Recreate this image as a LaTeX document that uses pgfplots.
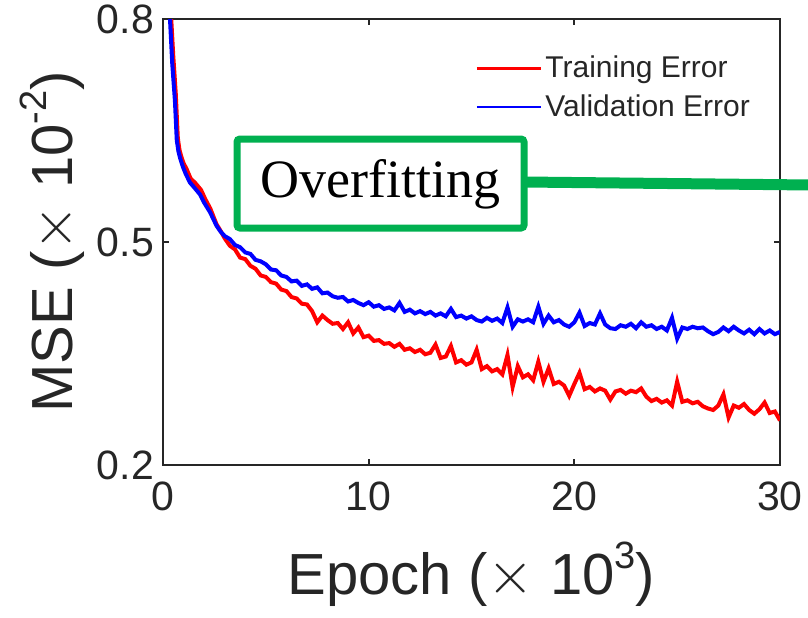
\documentclass[border=0pt]{standalone}
\usepackage{fontspec}
\setmainfont{Liberation Sans}
\newfontfamily\timesfont{Liberation Serif}
\usepackage{pgfplots}
\pgfplotsset{compat=1.18}
\definecolor{mgreen}{RGB}{0,176,80}
\definecolor{axgray}{RGB}{38,38,38}
\newcommand{\tms}{\raisebox{0.02em}{\scalebox{1.2}{$\times$}}}
\begin{document}
\begin{tikzpicture}
\useasboundingbox (-81.5pt,-76pt) rectangle (322.5pt,232.5pt);
\begin{axis}[
  scale only axis, width=308.5pt, height=223pt,
  xmin=0, xmax=30, ymin=0.2, ymax=0.8,
  xtick={0,10,20,30}, ytick={0.2,0.5,0.8},
  /pgf/number format/assume math mode=true,
  yticklabel style={/pgf/number format/fixed, /pgf/number format/fixed zerofill, /pgf/number format/precision=1, xshift=-1pt},
  xticklabel style={yshift=-5pt},
  tick align=inside, major tick length=3pt,
  axis line style={axgray, line width=1.1pt},
  every tick/.style={axgray, line width=1.1pt},
  ticklabel style={font=\fontsize{20.5}{21}\selectfont, text=axgray},
  xlabel={Epoch (\tms\ 10\raisebox{0.45em}{\fontsize{19}{19}\selectfont 3})},
  ylabel={MSE (\tms\ 10\raisebox{0.45em}{\fontsize{19}{19}\selectfont -2})},
  label style={font=\fontsize{29}{30}\selectfont, text=axgray},
  xlabel style={at={(axis description cs:0.5,-0.245)}, anchor=center},
  ylabel style={at={(axis description cs:-0.18,0.5)}, anchor=center},
  legend style={at={(axis description cs:0.506,0.925)}, anchor=north west, draw=none, fill=none,
    font=\fontsize{15}{15}\selectfont, text=axgray, row sep=4pt, inner sep=0pt,
    nodes={inner sep=1.5pt}},
  legend cell align=left,
  legend image code/.code={\draw[#1, line width=1.4pt] (0pt,0pt) -- (32pt,0pt);},
]
\addplot[red, line width=2pt] coordinates {
(0.3,0.86)(0.4,0.80)(0.5,0.75)(0.62,0.70)(0.72,0.64)(0.8,0.624)(0.9,0.614)(1.0,0.606)(1.15,0.598)(1.35,0.585)(1.55,0.580)(1.85,0.570)(2.05,0.558)(2.3,0.545)(2.6,0.524)(2.8,0.515)
(3.00,0.505)(3.25,0.495)(3.50,0.490)(3.75,0.479)(4.00,0.477)(4.25,0.468)(4.50,0.464)(4.75,0.455)
(5.00,0.453)(5.25,0.446)(5.50,0.444)(5.75,0.436)(6.00,0.434)(6.25,0.426)(6.50,0.424)(6.75,0.417)
(7.00,0.416)(7.25,0.407)(7.50,0.392)(7.75,0.401)(8.00,0.395)(8.25,0.390)(8.50,0.391)(8.75,0.383)
(9.00,0.392)(9.25,0.377)(9.50,0.385)(9.75,0.372)(10.00,0.374)(10.25,0.367)(10.50,0.368)(10.75,0.363)
(11.00,0.364)(11.25,0.359)(11.50,0.363)(11.75,0.355)(12.00,0.357)(12.25,0.352)(12.50,0.355)(12.75,0.349)
(13.00,0.351)(13.25,0.362)(13.50,0.344)(13.75,0.346)(14.00,0.360)(14.25,0.338)(14.50,0.341)(14.75,0.335)
(15.00,0.338)(15.25,0.355)(15.50,0.329)(15.75,0.333)(16.00,0.326)(16.25,0.329)(16.50,0.322)(16.75,0.348)
(17.00,0.305)(17.25,0.333)(17.50,0.318)(17.75,0.322)(18.00,0.314)(18.25,0.339)(18.50,0.312)(18.75,0.330)
(19.00,0.309)(19.25,0.312)(19.50,0.307)(19.75,0.293)(20.00,0.309)(20.25,0.324)(20.50,0.302)(20.75,0.305)
(21.00,0.299)(21.25,0.303)(21.50,0.300)(21.75,0.288)(22.00,0.299)(22.25,0.301)(22.50,0.296)(22.75,0.300)
(23.00,0.298)(23.25,0.303)(23.50,0.292)(23.75,0.286)(24.00,0.289)(24.25,0.284)(24.50,0.287)(24.75,0.280)
(25.00,0.312)(25.25,0.285)(25.50,0.287)(25.75,0.283)(26.00,0.285)(26.25,0.279)(26.50,0.276)(26.75,0.274)
(27.00,0.280)(27.25,0.295)(27.50,0.264)(27.75,0.280)(28.00,0.277)(28.25,0.282)(28.50,0.274)(28.75,0.269)
(29.00,0.275)(29.25,0.284)(29.50,0.270)(29.75,0.272)(30.00,0.260)
};
\addlegendentry{Training Error}
\addplot[blue, line width=2pt] coordinates {
(0.25,0.86)(0.34,0.80)(0.45,0.74)(0.58,0.69)(0.67,0.637)(0.75,0.622)(0.83,0.613)(0.97,0.601)(1.1,0.592)(1.31,0.580)(1.5,0.574)(1.8,0.564)(2.0,0.553)(2.29,0.540)(2.6,0.522)(2.8,0.514)
(3.00,0.508)(3.25,0.504)(3.50,0.496)(3.75,0.493)(4.00,0.486)(4.25,0.484)(4.50,0.476)(4.75,0.474)
(5.00,0.470)(5.25,0.463)(5.50,0.462)(5.75,0.455)(6.00,0.453)(6.25,0.447)(6.50,0.448)(6.75,0.441)
(7.00,0.443)(7.25,0.437)(7.50,0.439)(7.75,0.431)(8.00,0.432)(8.25,0.427)(8.50,0.425)(8.75,0.426)
(9.00,0.420)(9.25,0.422)(9.50,0.418)(9.75,0.415)(10.00,0.419)(10.25,0.413)(10.50,0.415)(10.75,0.410)
(11.00,0.412)(11.25,0.408)(11.50,0.418)(11.75,0.406)(12.00,0.409)(12.25,0.404)(12.50,0.407)(12.75,0.403)
(13.00,0.406)(13.25,0.401)(13.50,0.404)(13.75,0.400)(14.00,0.410)(14.25,0.399)(14.50,0.401)(14.75,0.397)
(15.00,0.400)(15.25,0.395)(15.50,0.393)(15.75,0.398)(16.00,0.394)(16.25,0.397)(16.50,0.391)(16.75,0.412)
(17.00,0.386)(17.25,0.396)(17.50,0.393)(17.75,0.396)(18.00,0.392)(18.25,0.413)(18.50,0.390)(18.75,0.401)
(19.00,0.392)(19.25,0.395)(19.50,0.389)(19.75,0.386)(20.00,0.392)(20.25,0.405)(20.50,0.387)(20.75,0.391)
(21.00,0.389)(21.25,0.404)(21.50,0.389)(21.75,0.384)(22.00,0.383)(22.25,0.388)(22.50,0.386)(22.75,0.390)
(23.00,0.384)(23.25,0.392)(23.50,0.386)(23.75,0.388)(24.00,0.383)(24.25,0.386)(24.50,0.381)(24.75,0.398)
(25.00,0.370)(25.25,0.385)(25.50,0.383)(25.75,0.386)(26.00,0.384)(26.25,0.385)(26.50,0.380)(26.75,0.376)
(27.00,0.379)(27.25,0.385)(27.50,0.380)(27.75,0.386)(28.00,0.381)(28.25,0.377)(28.50,0.382)(28.75,0.376)
(29.00,0.383)(29.25,0.377)(29.50,0.381)(29.75,0.376)(30.00,0.379)
};
\addlegendentry{Validation Error}
\end{axis}
\draw[mgreen, line width=5.5pt] (180.5pt,141.5pt) -- (324pt,140pt);
\draw[mgreen, line width=3.5pt, fill=white, rounded corners=1.5pt] (37pt,118.5pt) rectangle (180.5pt,163pt);
\node[font=\timesfont\fontsize{27}{28}\selectfont, text=black] at (108.75pt,140.5pt) {Overfitting};
\end{tikzpicture}
\end{document}
